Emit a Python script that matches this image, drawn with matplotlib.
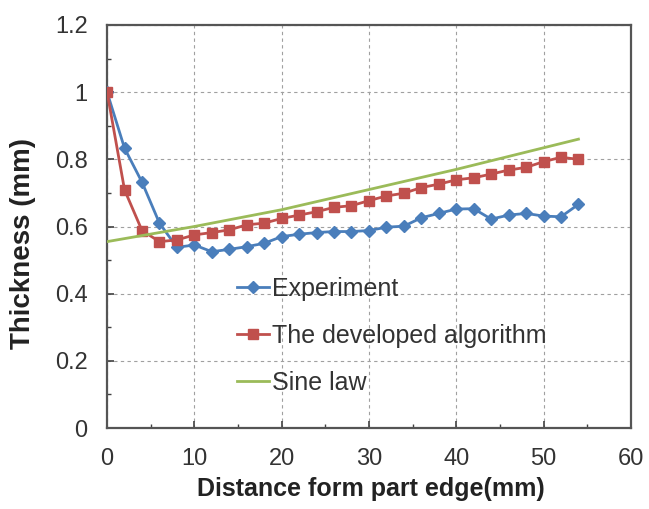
import matplotlib
matplotlib.use("Agg")
import matplotlib.pyplot as plt
from matplotlib.ticker import MultipleLocator

plt.rcParams['font.family'] = ['Liberation Sans', 'DejaVu Sans']

# distance from part edge (mm)
distance = [0, 2, 4, 6, 8, 10, 12, 14, 16, 18, 20, 22, 24, 26,
            28, 30, 32, 34, 36, 38, 40, 42, 44, 46, 48, 50, 52, 54]

experiment = [1.0, 0.833, 0.732, 0.61, 0.538, 0.545, 0.525, 0.532, 0.54, 0.55,
              0.57, 0.577, 0.582, 0.585, 0.585, 0.588, 0.598, 0.601, 0.626, 0.639,
              0.652, 0.653, 0.622, 0.634, 0.639, 0.631, 0.629, 0.666]

algorithm = [1.0, 0.709, 0.588, 0.555, 0.56, 0.575, 0.582, 0.59, 0.605, 0.61,
             0.624, 0.634, 0.644, 0.657, 0.662, 0.677, 0.691, 0.699, 0.716, 0.726,
             0.739, 0.745, 0.756, 0.768, 0.776, 0.793, 0.806, 0.80]

sine_x = [0, 10, 20, 30, 40, 54]
sine_y = [0.555, 0.6, 0.65, 0.71, 0.77, 0.86]

labels = ["Experiment", "The developed algorithm", "Sine law"]

fig = plt.figure(figsize=(6.49, 5.09), dpi=100)
ax = fig.add_axes([0.165, 0.159, 0.807, 0.792])

ax.plot(distance, experiment, color='#4a7ebb', lw=2, marker='D', ms=6,
        label=labels[0], zorder=3)
ax.plot(distance, algorithm, color='#c0504d', lw=2, marker='s', ms=7,
        label=labels[1], zorder=4)
ax.plot(sine_x, sine_y, color='#9bbb59', lw=2, label=labels[2], zorder=5)

ax.set_xlim(0, 60)
ax.set_ylim(0, 1.2)
ax.xaxis.set_major_locator(MultipleLocator(10))
ax.xaxis.set_minor_locator(MultipleLocator(5))
ax.yaxis.set_major_locator(MultipleLocator(0.2))
ax.yaxis.set_minor_locator(MultipleLocator(0.1))
ax.set_yticks([0, 0.2, 0.4, 0.6, 0.8, 1.0, 1.2])
ax.set_yticklabels(['0', '0.2', '0.4', '0.6', '0.8', '1', '1.2'])

ax.tick_params(which='both', direction='in', top=False, right=False,
               colors='#404040', labelsize=17, labelcolor='#333333')
ax.tick_params(which='major', length=5, width=1.2, pad=14)
ax.tick_params(which='minor', length=3, width=1.0)

ax.grid(True, which='major', color='#a0a0a0', ls=(0, (3, 3)), lw=0.8)
for s in ax.spines.values():
    s.set_color('#555555')
    s.set_linewidth(1.6)

ax.set_xlabel("Distance form part edge(mm)", fontsize=18, fontweight='bold',
              color='#222222')
ax.set_ylabel("Thickness (mm)", fontsize=20, fontweight='bold',
              color='#222222')
ax.xaxis.set_label_coords(0.504, -0.122)
ax.yaxis.set_label_coords(-0.135, 0.457)

ax.legend(loc='upper left', bbox_to_anchor=(0.248, 0.375), frameon=False,
          fontsize=18, handlelength=1.3, handletextpad=0.1, labelspacing=0.92,
          borderaxespad=0, borderpad=0, labelcolor='#333333')

fig.savefig("out.png", dpi=100)
